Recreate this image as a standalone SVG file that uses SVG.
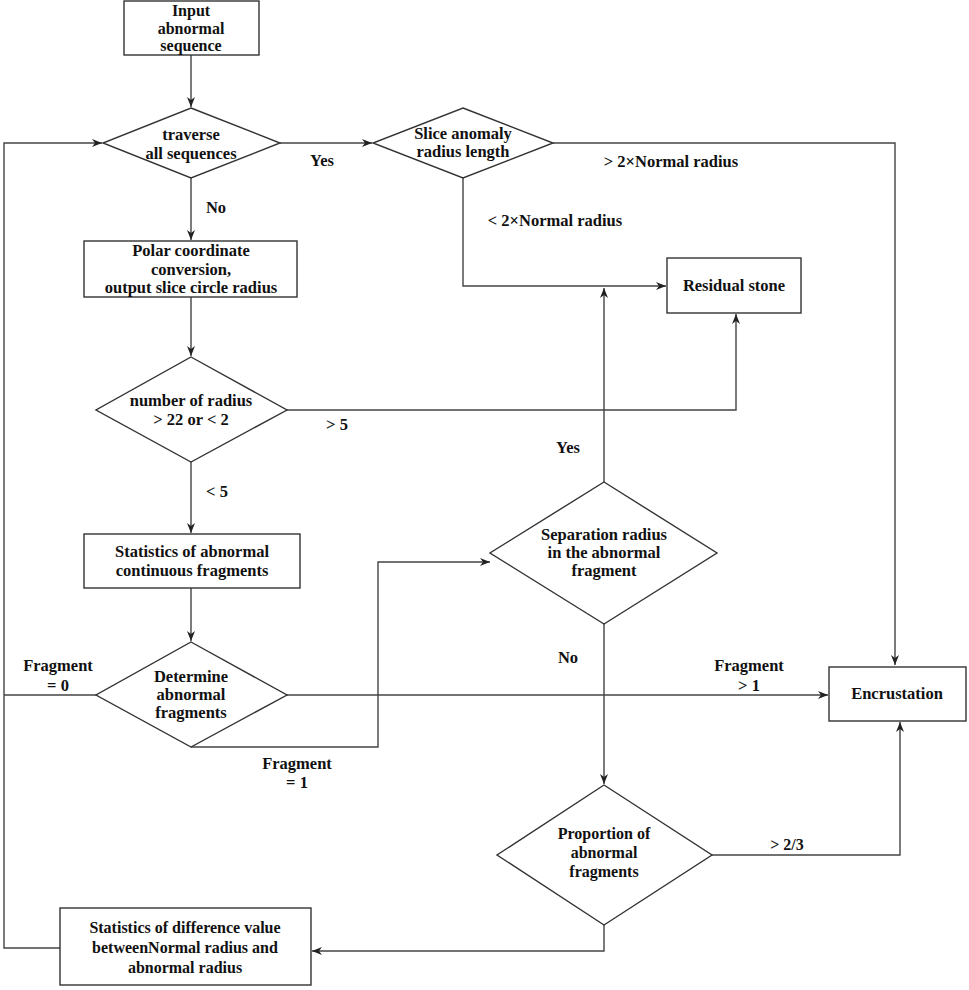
<svg xmlns="http://www.w3.org/2000/svg" width="969" height="990" viewBox="0 0 969 990">
<defs>
<marker id="ah" viewBox="0 0 10 10" refX="10" refY="5" markerWidth="10" markerHeight="10" markerUnits="userSpaceOnUse" orient="auto">
<path d="M0,1 L10,5 L0,9 L3,5 z" fill="#222"/>
</marker>
<style>
.n{fill:#fff;stroke:#333;stroke-width:1.4}
.c{fill:none;stroke:#444;stroke-width:1.4}
.a{marker-end:url(#ah)}
text{font-family:'Times New Roman','Liberation Serif','Noto Serif','DejaVu Serif',serif;font-weight:bold;font-size:16.5px;fill:#111;text-anchor:middle}
.s{font-size:16px}
</style>
</defs>
<rect width="969" height="990" fill="#fff"/>
<g id="connectors">
<path class="c a" d="M191,55 V107"/>
<path class="c a" d="M191,178 V240"/>
<path class="c a" d="M191,297 V356"/>
<path class="c a" d="M191,462 V533"/>
<path class="c a" d="M191,588 V641"/>
<path class="c a" d="M280,143 H372"/>
<path class="c a" d="M553,143 H895 V665"/>
<path class="c a" d="M463,178 V286 H666"/>
<path class="c a" d="M287,410 H736 V314"/>
<path class="c a" d="M604,482 V288"/>
<path class="c a" d="M287,695 H828"/>
<path class="c" d="M96,695 H4"/>
<path class="c a" d="M191,747 H378 V562 H490"/>
<path class="c a" d="M604,624 V784"/>
<path class="c a" d="M712,855 H900 V722"/>
<path class="c a" d="M604,925 V951 H312"/>
<path class="c a" d="M60,948 H4 V143 H102"/>
</g>
<g id="input"><rect class="n" x="124" y="1" width="135" height="54"/>
<text class="s" x="191" y="16">Input</text><text class="s" x="191" y="34">abnormal</text><text class="s" x="191" y="51">sequence</text></g>
<g id="traverse"><polygon class="n" points="191,108 280,143 191,178 103,143"/>
<text x="191" y="140">traverse</text><text x="191" y="159">all sequences</text></g>
<g id="slice"><polygon class="n" points="463,108 553,143 463,178 373,143"/>
<text x="463" y="139">Slice anomaly</text><text x="463" y="157">radius length</text></g>
<g id="polar"><rect class="n" x="84" y="241" width="213" height="56"/>
<text x="191" y="256">Polar coordinate</text><text x="191" y="275">conversion,</text><text x="191" y="293">output slice circle radius</text></g>
<g id="residual"><rect class="n" x="667" y="258" width="134" height="55"/>
<text x="734" y="291">Residual stone</text></g>
<g id="number"><polygon class="n" points="191,357 287,410 191,462 96,410"/>
<text x="191" y="406">number of radius</text><text x="191" y="425">&gt; 22 or &lt; 2</text></g>
<g id="stats"><rect class="n" x="84" y="534" width="216" height="54"/>
<text x="192" y="557">Statistics of abnormal</text><text x="192" y="576">continuous fragments</text></g>
<g id="separation"><polygon class="n" points="604,482 717,553 604,624 490,553"/>
<text x="604" y="540">Separation radius</text><text x="604" y="558">in the abnormal</text><text x="604" y="576">fragment</text></g>
<g id="determine"><polygon class="n" points="191,642 287,695 191,747 96,695"/>
<text x="191" y="682">Determine</text><text x="191" y="700">abnormal</text><text x="191" y="718">fragments</text></g>
<g id="encrustation"><rect class="n" x="829" y="667" width="137" height="54"/>
<text x="897" y="699">Encrustation</text></g>
<g id="proportion"><polygon class="n" points="604,785 712,855 604,925 497,855"/>
<text class="s" x="604" y="839">Proportion of</text><text class="s" x="604" y="858">abnormal</text><text class="s" x="604" y="877">fragments</text></g>
<g id="difference"><rect class="n" x="60" y="908" width="251" height="77"/>
<text class="s" x="185" y="933">Statistics of difference value</text><text class="s" x="185" y="953">betweenNormal radius and</text><text class="s" x="185" y="973">abnormal radius</text></g>
<g id="labels">
<text x="322" y="166">Yes</text>
<text x="216" y="213">No</text>
<text x="671" y="167">&gt; 2×Normal radius</text>
<text x="555" y="226">&lt; 2×Normal radius</text>
<text x="337" y="430">&gt; 5</text>
<text x="568" y="453">Yes</text>
<text x="217" y="497">&lt; 5</text>
<text x="568" y="663">No</text>
<text x="58" y="671">Fragment</text><text x="58" y="691">= 0</text>
<text x="749" y="671">Fragment</text><text x="749" y="691">&gt; 1</text>
<text x="297" y="769">Fragment</text><text x="297" y="788">= 1</text>
<text class="s" x="787" y="850">&gt; 2/3</text>
</g>
</svg>
